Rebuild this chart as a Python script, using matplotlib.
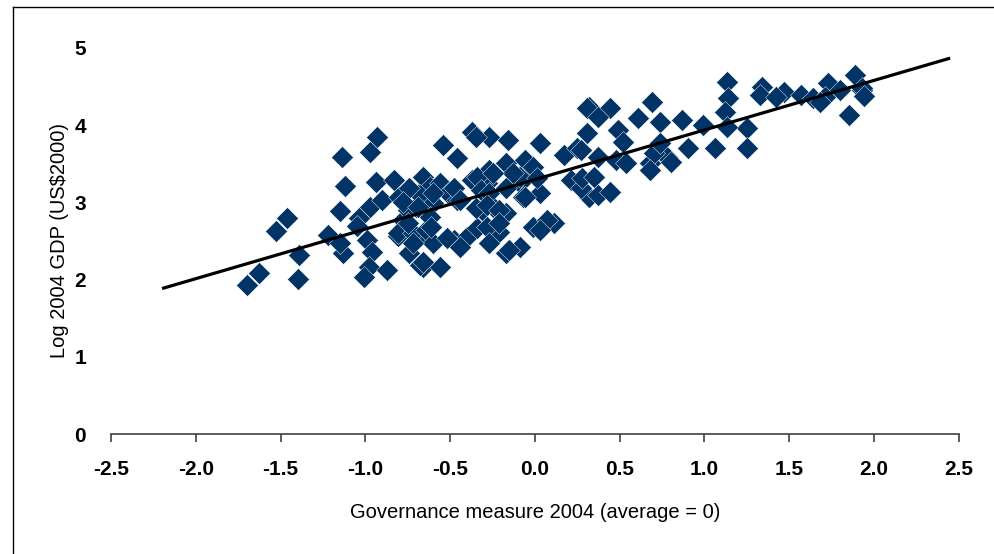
import matplotlib.pyplot as plt
from matplotlib.lines import Line2D
import numpy as np

# governance score 2004 (x) and log GDP per head 2004 (y)
governance = [
    -1.70, -1.63, -1.53, -1.46, -1.39, -1.40, -1.14, -0.93, -0.97, -1.12,
    -1.15, -1.22, -1.13, -1.15, -0.94, -0.83, -1.04, -0.97, -0.90, -1.05,
    -0.99, -0.96, -0.98, -1.01, -0.87, -0.66, -0.78, -0.81, -0.70, -0.74,
    -0.70, -0.64, -0.80, -0.75, -0.81, -0.72, -0.66, -0.62, -0.56, -0.68,
    -0.60, -0.51, -0.46, -0.68, -0.56, -0.64, -0.60, -0.48, -0.40, -0.34,
    -0.37, -0.27, -0.28, -0.44, -0.17, -0.09, -0.21, -0.17, -0.25, -0.01,
    0.11, 0.03, -0.37, -0.16, -0.54, -0.46, 0.17, 0.31, 0.25, 0.32,
    0.21, 0.32, -0.05, -0.09, 0.03, -0.31, -0.17, -0.06, -0.01, -0.34,
    -0.09, 0.01, 0.27, -0.48, -0.60, -0.74, -0.44, -0.32, -0.27, -0.17,
    -0.07, -0.35, -0.28, -0.21, -0.78, -0.69, -0.62, -0.75, -0.61, -0.52,
    -0.28, -0.21, -0.27, -0.15, 0.07, 0.03, -0.66, -0.72, -0.27, 0.31,
    0.44, 0.37, 0.69, 0.61, 0.49, 0.74, 0.87, 1.13, 1.14, 1.12,
    0.99, 1.25, 0.90, 1.06, 1.25, 1.13, 1.34, 1.33, 1.47, 1.57,
    1.64, 1.73, 1.89, 1.93, 1.85, 1.71, 0.37, 0.48, 0.54, 0.68,
    0.78, 0.70, 0.28, 0.35, 0.37, 0.44, -0.06, -0.13, -0.25, 0.52,
    0.74, 0.80, 0.68, 0.27, 1.42, 1.68, 1.80, 1.93, 1.94, -0.35,
]
log_gdp = [
    1.93, 2.09, 2.63, 2.80, 2.32, 2.01, 3.59, 3.85, 3.65, 3.21,
    2.89, 2.58, 2.34, 2.47, 3.26, 3.29, 2.80, 2.94, 3.03, 2.69,
    2.51, 2.36, 2.16, 2.03, 2.12, 2.16, 2.77, 2.56, 2.51, 2.34,
    2.94, 3.20, 3.07, 2.90, 2.60, 2.60, 3.33, 3.20, 3.25, 3.10,
    2.99, 3.12, 3.03, 2.19, 2.16, 2.64, 2.47, 2.51, 2.55, 2.67,
    3.29, 3.42, 3.25, 2.42, 2.34, 2.42, 2.62, 2.86, 2.94, 2.68,
    2.73, 3.77, 3.91, 3.81, 3.74, 3.58, 3.61, 3.90, 3.70, 4.24,
    3.29, 3.07, 3.42, 3.25, 3.12, 2.90, 3.51, 3.55, 3.46, 3.33,
    3.33, 3.32, 3.19, 3.19, 3.12, 3.19, 3.03, 3.16, 3.12, 3.19,
    3.07, 2.93, 2.97, 2.90, 3.01, 2.94, 2.81, 2.73, 2.68, 2.54,
    2.68, 2.73, 2.47, 2.38, 2.77, 2.64, 2.23, 2.47, 3.85, 4.22,
    4.22, 4.11, 4.30, 4.09, 3.94, 4.04, 4.07, 4.56, 4.35, 4.17,
    4.00, 3.96, 3.70, 3.70, 3.70, 3.98, 4.49, 4.39, 4.43, 4.39,
    4.35, 4.55, 4.65, 4.46, 4.13, 4.37, 3.59, 3.55, 3.51, 3.51,
    3.59, 3.64, 3.32, 3.33, 3.10, 3.13, 3.07, 3.38, 3.38, 3.78,
    3.77, 3.52, 3.42, 3.68, 4.37, 4.30, 4.46, 4.48, 4.38, 3.85,
]

# fitted line end points
fit_x = [-2.19, 2.44]
slope = 0.642
intercept = 3.296

x_ticks = [-2.5, -2.0, -1.5, -1.0, -0.5, 0.0, 0.5, 1.0, 1.5, 2.0, 2.5]
y_ticks = [0, 1, 2, 3, 4, 5]

plt.rcParams['font.family'] = ['Liberation Sans', 'DejaVu Sans']

fig = plt.figure(figsize=(9.95, 5.54), dpi=100)
ax = fig.add_axes([0.1116, 0.2166, 0.852, 0.6968])

ax.scatter(governance, log_gdp, marker='D', s=125, color='#003366',
           edgecolors='white', linewidths=0.3, zorder=2)

fx = np.array(fit_x)
ax.plot(fx, slope * fx + intercept, color='black', linewidth=2.3, zorder=3)

ax.set_xlim(-2.5, 2.5)
ax.set_ylim(0, 5)
ax.set_xticks(x_ticks)
ax.set_xticklabels([f'{t:.1f}' for t in x_ticks])
ax.set_yticks(y_ticks)

for s in ['top', 'right', 'left']:
    ax.spines[s].set_visible(False)
ax.spines['bottom'].set_color('#404040')
ax.spines['bottom'].set_linewidth(1.2)

ax.tick_params(axis='x', direction='out', length=6, width=1.2, color='#404040',
               pad=13, labelsize=15)
ax.tick_params(axis='y', length=0, pad=18, labelsize=15)
for lab in ax.get_xticklabels() + ax.get_yticklabels():
    lab.set_fontweight('bold')

ax.set_xlabel('Governance measure 2004 (average = 0)', fontsize=14.5, labelpad=17)
ax.set_ylabel('Log 2004 GDP (US$2000)', fontsize=14.5, labelpad=4)

# frame lines at the top and the left of the picture
fig.add_artist(Line2D([13 / 995, 1], [1 - 7 / 554, 1 - 7 / 554],
                      transform=fig.transFigure, color='black', linewidth=1))
fig.add_artist(Line2D([13 / 995, 13 / 995], [0, 1 - 7 / 554],
                      transform=fig.transFigure, color='black', linewidth=1))

fig.savefig('out.png', dpi=100)
